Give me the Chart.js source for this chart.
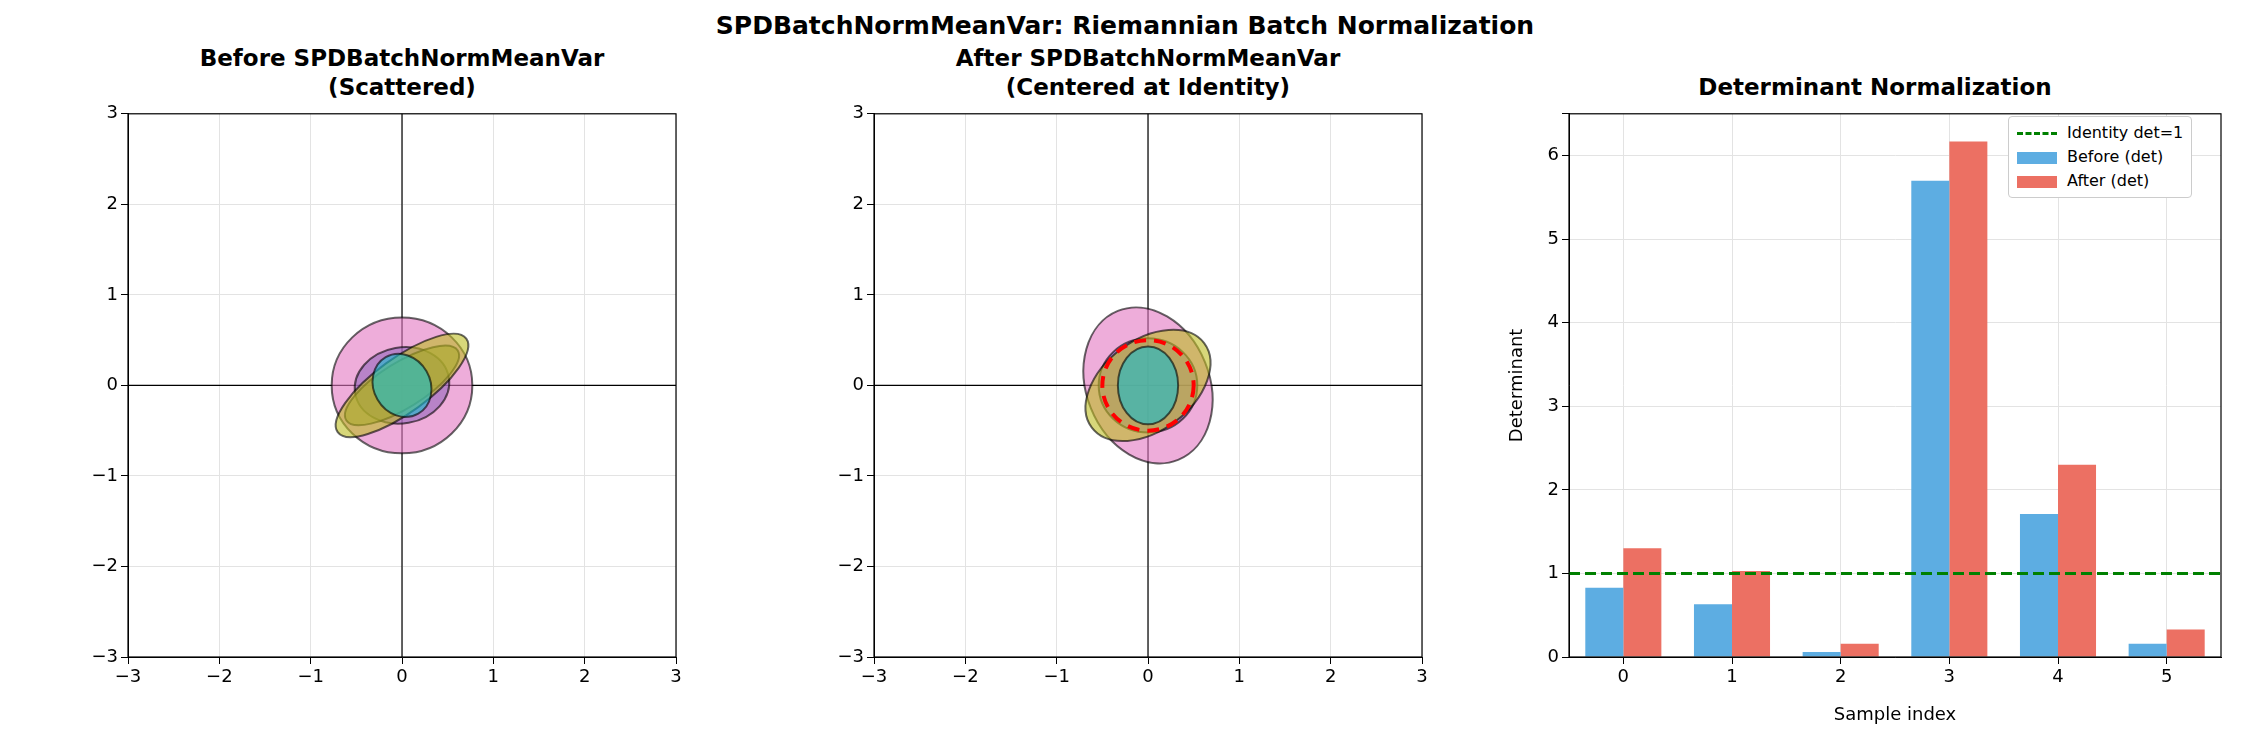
<!DOCTYPE html>
<html>
<head>
<meta charset="utf-8">
<script src="https://cdn.jsdelivr.net/npm/chart.js@4.4.0/dist/chart.umd.min.js"></script>
<style>
body { margin:0; width:2250px; height:750px; background:#fff; font-family:"DejaVu Sans"; position:relative; overflow:hidden; }
.t { position:absolute; font-weight:bold; text-align:center; transform:translateX(-50%); white-space:nowrap; line-height:29px; font-size:23px; }
.box { position:absolute; }
#legend { position:absolute; left:2008px; top:116px; border:1px solid #ccc; border-radius:4px; background:#fff; padding:4px 8px; font-size:16px; line-height:24px; }
#legend span { display:inline-block; width:40px; height:12px; margin-right:10px; vertical-align:middle; }
</style>
</head>
<body>
<div class="t" style="left:1125px;top:11px;font-size:25px">SPDBatchNormMeanVar: Riemannian Batch Normalization</div>
<div class="t" style="left:402px;top:44px">Before SPDBatchNormMeanVar<br>(Scattered)</div>
<div class="t" style="left:1148px;top:44px">After SPDBatchNormMeanVar<br>(Centered at Identity)</div>
<div class="t" style="left:1875px;top:73px">Determinant Normalization</div>

<div class="box" style="left:40px;top:100px;width:650px;height:600px"><canvas id="chart1"></canvas></div>
<div class="box" style="left:786px;top:100px;width:650px;height:600px"><canvas id="chart2"></canvas></div>
<div class="box" style="left:1505px;top:100px;width:730px;height:630px"><canvas id="chart3"></canvas></div>
<div id="legend">
  <div><span style="height:0;border-top:3px dashed #008000"></span>Identity det=1</div>
  <div><span style="background:#5dade2"></span>Before (det)</div>
  <div><span style="background:#ec7063"></span>After (det)</div>
</div>

<script>
Chart.defaults.font.family = 'DejaVu Sans';
Chart.defaults.font.size = 18;
Chart.defaults.color = '#000';

// ellipse params: semi axis a, semi axis b, angle (deg), colour
let beforeA = [0.77, 0.52, 0.72, 0.87, 0.31];
let beforeB = [0.75, 0.42, 0.25, 0.30, 0.36];
let beforeAng = [0, 10, 32, 36, 30];
let beforeCol = ['#e377c2', '#9467bd', '#8c8c3a', '#bcbd22', '#17becf'];

let afterA = [0.88, 0.54, 0.77, 0.33];
let afterB = [0.68, 0.52, 0.50, 0.43];
let afterAng = [112, 0, 37, 0];
let afterCol = ['#e377c2', '#9467bd', '#bcbd22', '#17becf'];
let identityR = 0.5;

let samples = ['0', '1', '2', '3', '4', '5'];
let detBefore = [0.83, 0.63, 0.06, 5.70, 1.71, 0.16];
let detAfter = [1.30, 1.03, 0.16, 6.17, 2.30, 0.33];
let identityDet = 1;

const frame = {
    id: 'frame',
    afterDraw(c) {
        const a = c.chartArea, ctx = c.ctx;
        ctx.save();
        ctx.strokeStyle = '#000';
        ctx.lineWidth = 1.2;
        ctx.strokeRect(a.left, a.top, a.right - a.left, a.bottom - a.top);
        ctx.restore();
    }
};

function ellipsePlugin(A, B, ang, col, circle) {
    return {
        id: 'ell',
        beforeDatasetsDraw(c) {
            const ctx = c.ctx, xs = c.scales.x, ys = c.scales.y;
            const cx = xs.getPixelForValue(0), cy = ys.getPixelForValue(0);
            const sx = xs.getPixelForValue(1) - cx, sy = cy - ys.getPixelForValue(1);
            ctx.save();
            // axes through origin
            ctx.strokeStyle = '#000';
            ctx.lineWidth = 1.2;
            ctx.beginPath();
            ctx.moveTo(c.chartArea.left, cy); ctx.lineTo(c.chartArea.right, cy);
            ctx.moveTo(cx, c.chartArea.top); ctx.lineTo(cx, c.chartArea.bottom);
            ctx.stroke();
            for (let i = 0; i < A.length; i++) {
                ctx.beginPath();
                ctx.ellipse(cx, cy, A[i] * sx, B[i] * sy, -ang[i] * Math.PI / 180, 0, 2 * Math.PI);
                ctx.globalAlpha = 0.6;
                ctx.fillStyle = col[i];
                ctx.fill();
                ctx.strokeStyle = '#000';
                ctx.lineWidth = 2;
                ctx.stroke();
            }
            ctx.globalAlpha = 1;
            if (circle) {
                ctx.beginPath();
                ctx.ellipse(cx, cy, circle * sx, circle * sy, 0, 0, 2 * Math.PI);
                ctx.strokeStyle = '#ff0000';
                ctx.lineWidth = 4;
                ctx.setLineDash([12, 8]);
                ctx.stroke();
            }
            ctx.restore();
        }
    };
}

function ellipseChart(id, plugin) {
    new Chart(document.getElementById(id), {
        type: 'scatter',
        data: { datasets: [{ data: [] }] },
        options: {
            responsive: true, maintainAspectRatio: false, animation: false,
            layout: { padding: { top: 9, right: 14 } },
            plugins: { legend: { display: false }, tooltip: { enabled: false } },
            scales: {
                x: { min: -3, max: 3, ticks: { stepSize: 1, callback: v => String(v).replace('-', '\u2212') },
                     grid: { color: '#e3e3e3', tickColor: '#000', tickLength: 7 }, border: { color: '#000' },
                     afterFit: s => { s.height = 43; } },
                y: { min: -3, max: 3, ticks: { stepSize: 1, callback: v => String(v).replace('-', '\u2212') },
                     grid: { color: '#e3e3e3', tickColor: '#000', tickLength: 7 }, border: { color: '#000' },
                     afterFit: s => { s.width = 88; } }
            }
        },
        plugins: [plugin, frame]
    });
}

ellipseChart('chart1', ellipsePlugin(beforeA, beforeB, beforeAng, beforeCol, 0));
ellipseChart('chart2', ellipsePlugin(afterA, afterB, afterAng, afterCol, identityR));

const identityLine = {
    id: 'identity',
    afterDatasetsDraw(c) {
        const ctx = c.ctx, y = c.scales.y.getPixelForValue(identityDet);
        ctx.save();
        ctx.strokeStyle = '#008000';
        ctx.lineWidth = 3;
        ctx.setLineDash([11, 5]);
        ctx.beginPath();
        ctx.moveTo(c.chartArea.left, y); ctx.lineTo(c.chartArea.right, y);
        ctx.stroke();
        ctx.restore();
    }
};

new Chart(document.getElementById('chart3'), {
    type: 'bar',
    data: {
        labels: samples,
        datasets: [
            { label: 'Before (det)', data: detBefore, backgroundColor: '#5dade2' },
            { label: 'After (det)', data: detAfter, backgroundColor: '#ec7063' }
        ]
    },
    options: {
        responsive: true, maintainAspectRatio: false, animation: false,
        layout: { padding: { top: 9, right: 14 } },
        datasets: { bar: { categoryPercentage: 0.7, barPercentage: 1 } },
        plugins: { legend: { display: false }, tooltip: { enabled: false } },
        scales: {
            x: { grid: { color: '#e3e3e3', tickColor: '#000', tickLength: 7, offset: false }, border: { color: '#000' },
                 title: { display: true, text: 'Sample index', font: { size: 18 } },
                 afterFit: s => { s.height = 73; } },
            y: { min: 0, max: 6.5, ticks: { stepSize: 1, callback: v => Number.isInteger(v) ? v : '' },
                 grid: { color: '#e3e3e3', tickColor: '#000', tickLength: 7 }, border: { color: '#000' },
                 title: { display: true, text: 'Determinant', font: { size: 18 }, padding: 2 },
                 afterFit: s => { s.width = 64; } }
        }
    },
    plugins: [identityLine, frame]
});
</script>
</body>
</html>
